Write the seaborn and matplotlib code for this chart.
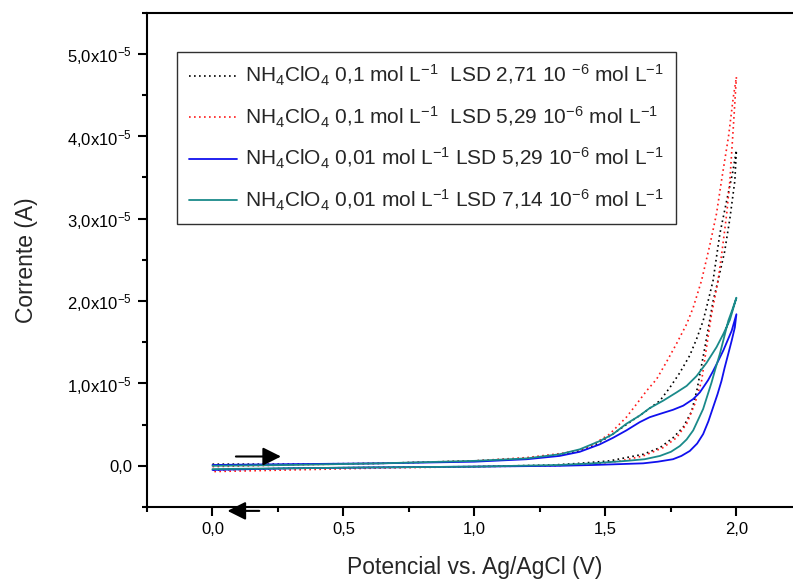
import matplotlib
matplotlib.use("Agg")
import matplotlib.pyplot as plt
from matplotlib.ticker import MultipleLocator, FixedLocator, FixedFormatter
import numpy as np
import pandas as pd
import seaborn as sns

# Cyclic voltammograms: potential (V vs. Ag/AgCl) and current in units of 1e-5 A.
# Each curve: forward sweep 0 -> 2 V, then reverse sweep 2 -> 0 V.

# NH4ClO4 0,1 mol/L, LSD 2,71e-6 mol/L (black dotted)
black_fwd_e = [0.00, 0.30, 0.64, 1.00, 1.20, 1.33, 1.40, 1.453, 1.516, 1.58, 1.644, 1.708, 1.746, 1.784, 1.822, 1.848, 1.873, 1.892, 1.911, 1.937, 1.963, 1.985, 2.00]
black_fwd_i = [0.02, 0.02, 0.03, 0.06, 0.09, 0.14, 0.18, 0.24, 0.36, 0.50, 0.64, 0.79, 0.95, 1.13, 1.34, 1.54, 1.76, 2.00, 2.25, 2.82, 3.22, 3.55, 3.83]
black_rev_e = [2.00, 1.994, 1.975, 1.955, 1.93, 1.911, 1.886, 1.867, 1.85, 1.829, 1.797, 1.758, 1.708, 1.644, 1.516, 1.40, 1.30, 1.00, 0.60, 0.30, 0.00]
black_rev_i = [3.83, 3.46, 3.00, 2.60, 2.25, 2.00, 1.55, 1.22, 0.93, 0.66, 0.47, 0.34, 0.22, 0.14, 0.06, 0.03, 0.01, -0.01, -0.02, -0.03, -0.05]

# NH4ClO4 0,1 mol/L, LSD 5,29e-6 mol/L (red dotted)
red_fwd_e = [0.00, 0.30, 0.64, 1.00, 1.20, 1.33, 1.40, 1.453, 1.516, 1.58, 1.619, 1.657, 1.695, 1.733, 1.771, 1.81, 1.835, 1.867, 1.90, 1.924, 1.943, 1.97, 1.988, 2.00]
red_fwd_i = [-0.01, 0.01, 0.03, 0.06, 0.10, 0.15, 0.19, 0.26, 0.385, 0.59, 0.75, 0.91, 1.05, 1.26, 1.48, 1.72, 1.92, 2.25, 2.70, 3.06, 3.46, 4.00, 4.47, 4.72]
red_rev_e = [2.00, 1.99, 1.975, 1.963, 1.945, 1.93, 1.905, 1.886, 1.867, 1.841, 1.81, 1.771, 1.72, 1.644, 1.56, 1.48, 1.30, 1.00, 0.60, 0.30, 0.00]
red_rev_i = [4.72, 4.20, 3.46, 3.06, 2.60, 2.25, 1.84, 1.44, 1.03, 0.75, 0.51, 0.34, 0.22, 0.12, 0.06, 0.03, 0.00, -0.01, -0.03, -0.05, -0.07]

# NH4ClO4 0,01 mol/L, LSD 5,29e-6 mol/L (blue)
blue_fwd_e = [0.00, 0.30, 0.64, 1.00, 1.20, 1.325, 1.402, 1.478, 1.529, 1.58, 1.631, 1.669, 1.708, 1.758, 1.797, 1.835, 1.86, 1.873, 1.892, 1.911, 1.93, 1.95, 1.966, 1.982, 2.00]
blue_fwd_i = [0.01, 0.02, 0.03, 0.05, 0.08, 0.12, 0.17, 0.26, 0.34, 0.43, 0.53, 0.59, 0.63, 0.68, 0.73, 0.81, 0.89, 0.95, 1.04, 1.15, 1.27, 1.40, 1.52, 1.64, 1.84]
blue_rev_e = [2.00, 1.994, 1.982, 1.969, 1.955, 1.943, 1.928, 1.911, 1.893, 1.873, 1.85, 1.822, 1.79, 1.758, 1.70, 1.644, 1.55, 1.453, 1.325, 1.00, 0.60, 0.30, 0.00]
blue_rev_i = [1.84, 1.68, 1.52, 1.36, 1.19, 1.03, 0.87, 0.71, 0.54, 0.385, 0.27, 0.18, 0.12, 0.08, 0.05, 0.03, 0.02, 0.01, 0.00, -0.01, -0.02, -0.03, -0.05]

# NH4ClO4 0,01 mol/L, LSD 7,14e-6 mol/L (teal)
teal_fwd_e = [0.00, 0.30, 0.64, 1.00, 1.20, 1.325, 1.402, 1.478, 1.529, 1.58, 1.631, 1.669, 1.72, 1.771, 1.81, 1.848, 1.886, 1.924, 1.95, 1.975, 2.00]
teal_fwd_i = [0.00, 0.01, 0.03, 0.06, 0.09, 0.14, 0.20, 0.30, 0.385, 0.51, 0.61, 0.70, 0.79, 0.89, 0.97, 1.09, 1.25, 1.44, 1.60, 1.77, 2.04]
teal_rev_e = [2.00, 1.985, 1.969, 1.953, 1.937, 1.92, 1.905, 1.873, 1.835, 1.81, 1.784, 1.75, 1.708, 1.65, 1.58, 1.453, 1.325, 1.00, 0.60, 0.30, 0.00]
teal_rev_i = [2.04, 1.90, 1.76, 1.56, 1.36, 1.18, 1.01, 0.69, 0.43, 0.32, 0.24, 0.17, 0.12, 0.08, 0.06, 0.03, 0.01, -0.01, -0.02, -0.03, -0.04]

labels = [
    r"NH$_4$ClO$_4$ 0,1 mol L$^{-1}$  LSD 2,71 10 $^{-6}$ mol L$^{-1}$",
    r"NH$_4$ClO$_4$ 0,1 mol L$^{-1}$  LSD 5,29 10$^{-6}$ mol L$^{-1}$",
    r"NH$_4$ClO$_4$ 0,01 mol L$^{-1}$ LSD 5,29 10$^{-6}$ mol L$^{-1}$",
    r"NH$_4$ClO$_4$ 0,01 mol L$^{-1}$ LSD 7,14 10$^{-6}$ mol L$^{-1}$",
]

x_ticks = [0.0, 0.5, 1.0, 1.5, 2.0]
x_tick_labels = ["0,0", "0,5", "1,0", "1,5", "2,0"]
y_ticks = [0.0, 1.0, 2.0, 3.0, 4.0, 5.0]  # x 1e-5 A
y_tick_labels = ["0,0", r"1,0x10$^{-5}$", r"2,0x10$^{-5}$", r"3,0x10$^{-5}$",
                 r"4,0x10$^{-5}$", r"5,0x10$^{-5}$"]

UNIT = 1e-5

curves = [
    (black_fwd_e + black_rev_e, black_fwd_i + black_rev_i),
    (red_fwd_e + red_rev_e, red_fwd_i + red_rev_i),
    (blue_fwd_e + blue_rev_e, blue_fwd_i + blue_rev_i),
    (teal_fwd_e + teal_rev_e, teal_fwd_i + teal_rev_i),
]
styles = [
    dict(color="black", linestyle=(0, (1, 2)), linewidth=1.2),
    dict(color="#ff1a1a", linestyle=(0, (1, 2)), linewidth=1.2),
    dict(color="#1010ee", linestyle="-", linewidth=1.3),
    dict(color="#1a8a8a", linestyle="-", linewidth=1.3),
]

frames = []
for (e, i), lab in zip(curves, labels):
    frames.append(pd.DataFrame({"E": e, "I": np.array(i) * UNIT, "curve": lab}))
data = pd.concat(frames, ignore_index=True)

sns.set_style("ticks")
plt.rcParams["font.family"] = ["Liberation Sans", "DejaVu Sans"]
plt.rcParams["mathtext.fontset"] = "custom"
plt.rcParams["mathtext.rm"] = "Liberation Sans"
plt.rcParams["mathtext.it"] = "Liberation Sans:italic"
plt.rcParams["mathtext.bf"] = "Liberation Sans:bold"

fig = plt.figure(figsize=(7.93, 5.79), dpi=100)
ax = fig.add_axes([147 / 793, 72 / 579, 654.9 / 793, 494.3 / 579])

for lab, st in zip(labels, styles):
    sub = data[data["curve"] == lab]
    sns.lineplot(data=sub, x="E", y="I", sort=False, estimator=None,
                 ax=ax, label=lab, **st)

ax.set_xlim(-0.25, 2.25)
ax.set_ylim(-0.5 * UNIT, 5.5 * UNIT)

ax.xaxis.set_major_locator(FixedLocator(x_ticks))
ax.xaxis.set_major_formatter(FixedFormatter(x_tick_labels))
ax.xaxis.set_minor_locator(MultipleLocator(0.25))
ax.yaxis.set_major_locator(FixedLocator([v * UNIT for v in y_ticks]))
ax.yaxis.set_major_formatter(FixedFormatter(y_tick_labels))
ax.yaxis.set_minor_locator(MultipleLocator(0.5 * UNIT))

for s in ax.spines.values():
    s.set_linewidth(1.5)
    s.set_color("black")
ax.tick_params(which="both", direction="out", width=1.5, colors="black",
               top=False, right=False, labelsize=12)
ax.tick_params(which="major", length=6.7, pad=4)
ax.tick_params(which="minor", length=3.4)

ax.set_xlabel("Potencial vs. Ag/AgCl (V)", fontsize=16.5, labelpad=14)
ax.set_ylabel("Corrente (A)", fontsize=16.5, labelpad=21)

leg = ax.legend(loc="upper left", bbox_to_anchor=(0.0463, 0.921),
                borderaxespad=0, frameon=True, fancybox=False, shadow=False,
                fontsize=15, handlelength=2.3, handletextpad=0.42,
                labelspacing=0.78, borderpad=0.55)
leg.get_frame().set_edgecolor("#303030")
leg.get_frame().set_linewidth(1.0)
leg.get_frame().set_facecolor("white")
leg.get_frame().set_alpha(1.0)

# Sweep direction arrows
arrow_kw = dict(arrowstyle="-|>,head_length=1.1,head_width=0.55",
                color="black", lw=1.5, mutation_scale=10,
                shrinkA=0, shrinkB=0)
ax.annotate("", xy=(0.2615, 0.113 * UNIT), xytext=(0.0894, 0.113 * UNIT),
            arrowprops=arrow_kw, annotation_clip=False)
ax.annotate("", xy=(0.0573, -0.547 * UNIT), xytext=(0.1785, -0.547 * UNIT),
            arrowprops=arrow_kw, annotation_clip=False)

fig.savefig("out.png", dpi=100)
